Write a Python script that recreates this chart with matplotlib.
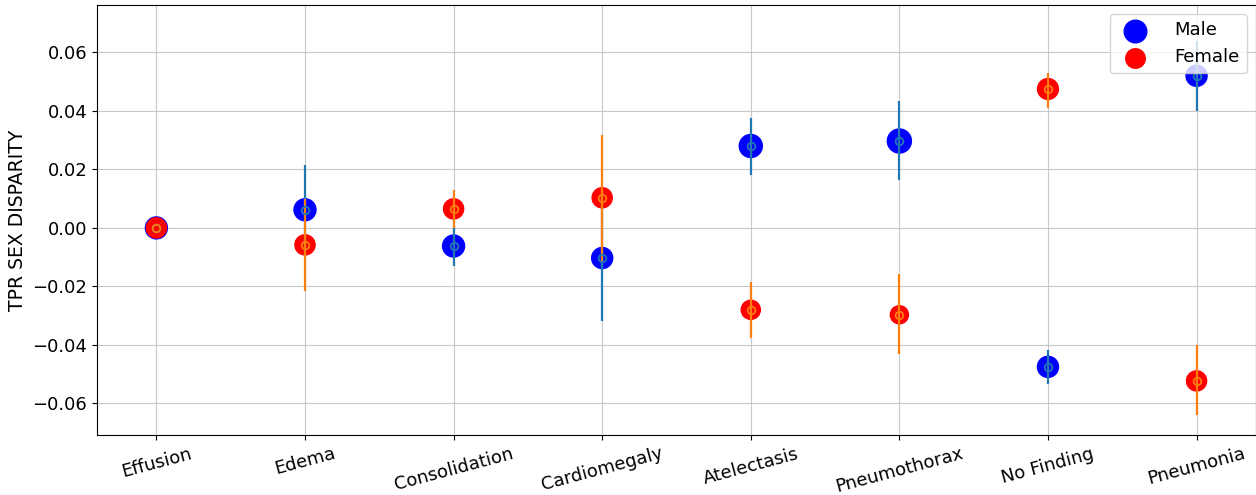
import numpy as np
import matplotlib.pyplot as plt

labels = ["Effusion", "Edema", "Consolidation", "Cardiomegaly",
          "Atelectasis", "Pneumothorax", "No Finding", "Pneumonia"]

# TPR gap per sex, with lower / upper ends of the interval
male = [0.0, 0.0062, -0.0062, -0.0103, 0.0280, 0.0297, -0.0475, 0.0520]
male_lo = [0.0, -0.0091, -0.0130, -0.0318, 0.0181, 0.0164, -0.0533, 0.0400]
male_hi = [0.0, 0.0215, 0.0006, 0.0112, 0.0376, 0.0434, -0.0417, 0.0640]

female = [0.0, -0.0058, 0.0065, 0.0103, -0.0280, -0.0297, 0.0475, -0.0523]
female_lo = [0.0, -0.0215, 0.0, -0.0112, -0.0376, -0.0430, 0.0410, -0.0640]
female_hi = [0.0, 0.0099, 0.0130, 0.0318, -0.0185, -0.0157, 0.0530, -0.0400]

# marker area ~ group size
male_size = [250, 250, 250, 230, 275, 300, 230, 230]
female_size = [210, 210, 210, 210, 190, 170, 225, 210]

x = np.arange(len(labels))
male = np.array(male)
female = np.array(female)
male_err = [male - np.array(male_lo), np.array(male_hi) - male]
female_err = [female - np.array(female_lo), np.array(female_hi) - female]

plt.rcParams['font.family'] = 'DejaVu Sans'
fig = plt.figure(figsize=(12.56, 4.95), dpi=100)
ax = fig.add_axes([0.0772, 0.1212, 0.9228, 0.8687])

ax.scatter(x, male, s=male_size, color='blue', label='Male', zorder=2)
ax.scatter(x, female, s=female_size, color='red', label='Female', zorder=2)
ax.errorbar(x, male, yerr=male_err, fmt='o', color='tab:blue', mfc='none',
            ms=5.5, mew=1.3, elinewidth=1.6, zorder=3)
ax.errorbar(x, female, yerr=female_err, fmt='o', color='tab:orange', mfc='none',
            ms=5.5, mew=1.3, elinewidth=1.6, zorder=3)

ax.set_xlim(-0.4, 7.4)
ax.set_ylim(-0.0708, 0.0762)
ax.set_xticks(x)
ax.set_xticklabels(labels, rotation=15, fontsize=13)
ax.set_yticks([-0.06, -0.04, -0.02, 0.0, 0.02, 0.04, 0.06])
ax.tick_params(axis='y', labelsize=13)
ax.set_ylabel("TPR SEX DISPARITY", fontsize=13.5)
ax.grid(True, color='#c8c8c8', zorder=0)
ax.set_axisbelow(True)

ax.legend(loc='upper right', fontsize=13, handletextpad=1.2)

plt.savefig("out.png", dpi=100)
